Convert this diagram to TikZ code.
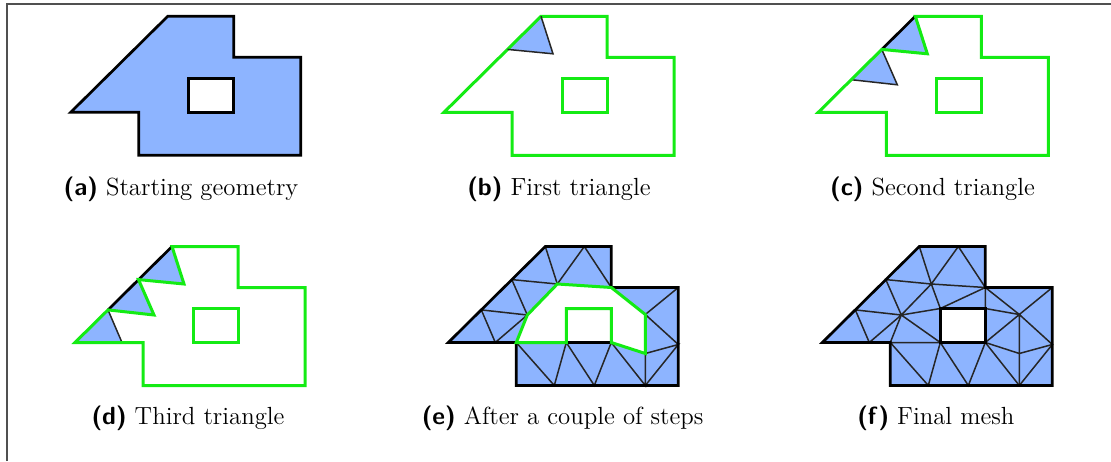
\documentclass[tikz,border=0pt]{standalone}
\usepackage{tikz}
\usetikzlibrary{calc}
\definecolor{meshblue}{RGB}{141,180,255}
\definecolor{frontgreen}{RGB}{20,235,20}
\definecolor{framegray}{RGB}{80,80,80}

% vertices of the domain (tip of the slanted edge at the origin), prefix #1
\newcommand{\meshpoints}[1]{%
  \coordinate (#1A) at (0,0);
  \coordinate (#1B) at (97,96);
  \coordinate (#1C) at (163,96);
  \coordinate (#1D) at (163,55);
  \coordinate (#1E) at (230,55);
  \coordinate (#1F) at (230,-43);
  \coordinate (#1G) at (68,-43);
  \coordinate (#1H) at (68,0);
  \coordinate (#1hBL) at (118,0);
  \coordinate (#1hBR) at (163,0);
  \coordinate (#1hTR) at (163,34);
  \coordinate (#1hTL) at (118,34);
  \coordinate (#1a1) at (33,32.6);
  \coordinate (#1a2) at (63.5,62.9);
  \coordinate (#1b1) at (136,96);
  \coordinate (#1h1) at (47,0);
  \coordinate (#1g1) at (106,-43);
  \coordinate (#1g2) at (146,-43);
  \coordinate (#1g3) at (197,-43);
  \coordinate (#1e1) at (230,-2);
  \coordinate (#1P1) at (109,58.5);
  \coordinate (#1P2) at (79,27.5);
  \coordinate (#1P3) at (197,28);
  \coordinate (#1P4) at (197,-11);
}
\newcommand{\domain}[1]{(#1A) -- (#1B) -- (#1C) -- (#1D) -- (#1E) -- (#1F) -- (#1G) -- (#1H) -- cycle}

\begin{document}
\begin{tikzpicture}[x=0.5pt, y=0.5pt,
    domainline/.style={draw=black, line width=1.35pt, line join=miter},
    meshedge/.style={draw=black!85, line width=0.75pt},
    front/.style={draw=frontgreen, line width=1.5pt, line join=miter},
    caption/.style={anchor=base, font=\fontsize{12.4}{15}\selectfont}]
  \useasboundingbox (0,0) rectangle (1111,461);
  % frame
  \draw[framegray, line width=1pt] (6.5,0) -- (6.5,456.5) -- (1111,456.5);

  \begin{scope}[shift={(70.7,348.7)}] \meshpoints{a} \end{scope}
  \begin{scope}[shift={(444,348.7)}] \meshpoints{b} \end{scope}
  \begin{scope}[shift={(818.3,348.7)}] \meshpoints{c} \end{scope}
  \begin{scope}[shift={(75,118.5)}] \meshpoints{d} \end{scope}
  \begin{scope}[shift={(448.3,118.5)}] \meshpoints{e} \end{scope}
  \begin{scope}[shift={(822.3,118.5)}] \meshpoints{f} \end{scope}

  % (a) starting geometry
  \fill[meshblue, even odd rule] \domain{a} (ahBL) rectangle (ahTR);
  \draw[domainline] \domain{a};
  \draw[domainline, fill=white] (ahBL) rectangle (ahTR);
  \node[caption] (capa) at (181,266) {{\sffamily\bfseries (a)} Starting geometry};

  % (b) first triangle
  \fill[meshblue] (bB) -- (ba2) -- (bP1) -- cycle;
  \draw[front] \domain{b};
  \draw[meshedge] (ba2) -- (bP1) -- (bB);
  \draw[front] (bhBL) rectangle (bhTR);
  \node[caption] (capb) at (559,266) {{\sffamily\bfseries (b)} First triangle};

  % (c) second triangle
  \fill[meshblue] (cB) -- (ca2) -- (cP1) -- cycle;
  \fill[meshblue] (ca2) -- (ca1) -- (cP2) -- cycle;
  \draw[domainline] (ca2) -- (cB);
  \draw[meshedge] (ca2) -- (cP2) -- (ca1);
  \draw[front] (cA) -- (ca2) -- (cP1) -- (cB) -- (cC) -- (cD) -- (cE) -- (cF) -- (cG) -- (cH) -- cycle;
  \draw[front] (chBL) rectangle (chTR);
  \node[caption] (capc) at (932.5,266) {{\sffamily\bfseries (c)} Second triangle};

  % (d) third triangle
  \fill[meshblue] (dB) -- (da2) -- (dP1) -- cycle;
  \fill[meshblue] (da2) -- (da1) -- (dP2) -- cycle;
  \fill[meshblue] (da1) -- (dA) -- (dh1) -- cycle;
  \draw[domainline] (da1) -- (dB);
  \draw[meshedge] (da1) -- (dh1);
  \draw[front] (dA) -- (da1) -- (dP2) -- (da2) -- (dP1) -- (dB) -- (dC) -- (dD) -- (dE) -- (dF) -- (dG) -- (dH) -- cycle;
  \draw[front] (dhBL) rectangle (dhTR);
  \node[caption] (capd) at (188,37) {{\sffamily\bfseries (d)} Third triangle};

  % (e) after a couple of steps
  \fill[meshblue] \domain{e};
  \fill[white] (eH) -- (eP2) -- (eP1) -- (eD) -- (eP3) -- (eP4) -- (ehBR) -- (ehBL) -- cycle;
  \draw[meshedge] (ea2) -- (eP1) -- (eB);
  \draw[meshedge] (eP1) -- (eb1) -- (eD);
  \draw[meshedge] (ea2) -- (eP2) -- (ea1) -- (eh1) -- (eP2);
  \draw[meshedge] (eH) -- (eg1) -- (ehBL) -- (eg2) -- (ehBR) -- (eg3) -- (eP4);
  \draw[meshedge] (eg3) -- (ee1) -- (eP4);
  \draw[meshedge] (eE) -- (eP3) -- (ee1);
  \draw[domainline] \domain{e};
  \draw[domainline] (ehBL) -- (ehBR);
  \draw[front] (eH) -- (eP2) -- (eP1) -- (eD) -- (eP3) -- (eP4) -- (ehBR) -- (ehTR) -- (ehTL) -- (ehBL) -- cycle;
  \node[caption] (cape) at (562.7,37) {{\sffamily\bfseries (e)} After a couple of steps};

  % (f) final mesh
  \fill[meshblue, even odd rule] \domain{f} (fhBL) rectangle (fhTR);
  \draw[meshedge] (fa1) -- (fh1) -- (fP2) -- (fa1);
  \draw[meshedge] (fH) -- (fP2) -- (fa2) -- (fP1) -- (fP2);
  \draw[meshedge] (fhBL) -- (fP2) -- (fhTL) -- (fP1);
  \draw[meshedge] (fB) -- (fP1) -- (fb1) -- (fD) -- (fP1);
  \draw[meshedge] (fhTL) -- (fD) -- (fhTR);
  \draw[meshedge] (fD) -- (fP3) -- (fE);
  \draw[meshedge] (fhTR) -- (fP3) -- (fhBR) -- (fP4) -- (fP3) -- (fe1) -- (fP4) -- (fg3);
  \draw[meshedge] (fhBR) -- (fg3) -- (fe1);
  \draw[meshedge] (fH) -- (fhBL) -- (fg1) -- (fH);
  \draw[meshedge] (fhBL) -- (fg2) -- (fhBR);
  \draw[domainline] \domain{f};
  \draw[domainline] (fhBL) rectangle (fhTR);
  \node[caption] (capf) at (935.8,37) {{\sffamily\bfseries (f)} Final mesh};
\end{tikzpicture}
\end{document}
